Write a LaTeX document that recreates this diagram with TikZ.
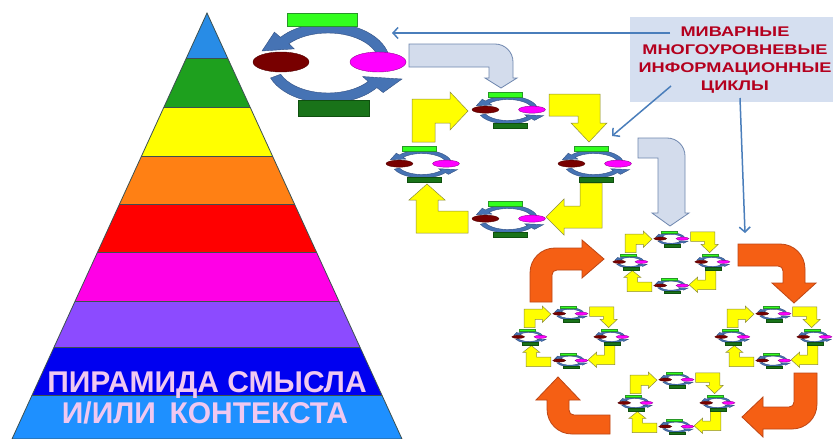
\documentclass[tikz,border=0pt]{standalone}
\usepackage{fontspec}
\setmainfont{Liberation Sans}
\newfontfamily\lblfont[FakeStretch=1.3]{Liberation Sans}
\usetikzlibrary{arrows.meta}
\definecolor{pb1}{RGB}{40,140,230}
\definecolor{pb2}{RGB}{30,160,30}
\definecolor{pb3}{RGB}{255,255,0}
\definecolor{pb4}{RGB}{255,128,20}
\definecolor{pb5}{RGB}{255,0,0}
\definecolor{pb6}{RGB}{255,0,230}
\definecolor{pb7}{RGB}{140,75,255}
\definecolor{pb8}{RGB}{0,0,240}
\definecolor{pb9}{RGB}{30,144,255}
\definecolor{pyredge}{RGB}{60,80,80}
\definecolor{pyrtext}{RGB}{240,200,240}
\definecolor{ringfill}{RGB}{70,115,180}
\definecolor{ringdraw}{RGB}{50,80,130}
\definecolor{gtopc}{RGB}{50,255,30}
\definecolor{gtopd}{RGB}{40,150,40}
\definecolor{gbotc}{RGB}{25,115,25}
\definecolor{gbotd}{RGB}{15,80,15}
\definecolor{redc}{RGB}{120,0,0}
\definecolor{redd}{RGB}{80,0,0}
\definecolor{magc}{RGB}{255,0,255}
\definecolor{magd}{RGB}{150,0,150}
\definecolor{yelc}{RGB}{255,255,0}
\definecolor{yeld}{RGB}{140,140,60}
\definecolor{lbc}{RGB}{211,220,236}
\definecolor{lbd}{RGB}{111,135,175}
\definecolor{orc}{RGB}{245,95,20}
\definecolor{ord}{RGB}{190,70,20}
\definecolor{boxc}{RGB}{213,223,240}
\definecolor{lbltext}{RGB}{180,0,30}
\definecolor{connc}{RGB}{74,126,187}
\tikzset{
  ringc/.style={fill=ringfill, draw=ringdraw, line width=0.4pt},
  gtop/.style={fill=gtopc, draw=gtopd, line width=0.4pt},
  gbot/.style={fill=gbotc, draw=gbotd, line width=0.4pt},
  redell/.style={fill=redc, draw=redd, line width=0.4pt},
  magell/.style={fill=magc, draw=magd, line width=0.4pt},
  yarrow/.style={fill=yelc, draw=yeld, line width=0.5pt},
  lbarrow/.style={fill=lbc, draw=lbd, line width=0.8pt},
  orarrow/.style={fill=orc, draw=ord, line width=0.8pt},
  pyrline/.style={draw=pyredge, line width=0.8pt},
  pyrlabel/.style={text=pyrtext, font=\bfseries\fontsize{30}{30}\selectfont, anchor=base, inner sep=0pt},
  lbltxt/.style={text=lbltext, font=\lblfont\bfseries\fontsize{14}{14}\selectfont, anchor=base, inner sep=0pt},
  conn/.style={draw=connc, line width=1.5pt, -{Straight Barb[length=5pt,width=11pt]}},
  cyc/.pic={
    \path[ringc] (-12:62 and 40) arc[start angle=-12,end angle=-140,x radius=62,y radius=40]
      -- (-140:70 and 48) -- (-66,-12) -- (-140:44 and 22) -- (-140:51 and 30)
      arc[start angle=-140,end angle=-12,x radius=51,y radius=30] -- cycle;
    \path[ringc] (158:62 and 40) arc[start angle=158,end angle=38,x radius=62,y radius=40]
      -- (38:70 and 48) -- (74,16) -- (38:44 and 22) -- (38:51 and 30)
      arc[start angle=38,end angle=158,x radius=51,y radius=30] -- cycle;
    \path[gtop] (-41,-50) rectangle (29,-37);
    \path[gbot] (-30,37) rectangle (41,53);
    \path[redell] (-47,-1) ellipse[x radius=28,y radius=10];
    \path[magell] (50,-1) ellipse[x radius=28,y radius=10];
  },
  grp/.pic={
    \path[yarrow] (-96,-22) -- (-96,-65) -- (-58,-65) -- (-58,-72) -- (-40,-53) -- (-58,-34)
      -- (-58,-41) -- (-73,-41) -- (-73,-22) -- cycle;
    \path[yarrow] (41,-70) -- (92,-70) -- (92,-41) -- (99,-41) -- (81,-22) -- (63,-41)
      -- (70,-41) -- (70,-48) -- (41,-48) -- cycle;
    \path[yarrow] (72,19) -- (94,19) -- (94,64) -- (56,64) -- (56,71) -- (38,53) -- (56,35)
      -- (56,42) -- (72,42) -- cycle;
    \path[yarrow] (-40,69) -- (-92,69) -- (-92,36) -- (-99,36) -- (-81,20) -- (-63,36)
      -- (-70,36) -- (-70,47) -- (-40,47) -- cycle;
    \begin{scope}[shift={(0,-54)},xscale=.48,yscale=.35]\pic[transform shape]{cyc};\end{scope}
    \begin{scope}[shift={(-86,0)},xscale=.48,yscale=.35]\pic[transform shape]{cyc};\end{scope}
    \begin{scope}[shift={(86,0)},xscale=.48,yscale=.35]\pic[transform shape]{cyc};\end{scope}
    \begin{scope}[shift={(0,55)},xscale=.48,yscale=.35]\pic[transform shape]{cyc};\end{scope}
  }
}
\begin{document}
\begin{tikzpicture}[x=1pt,y=-1pt]
\useasboundingbox (0,0) rectangle (833,439);
\fill[white] (0,0) rectangle (833,439);
% ---- pyramid
\begin{scope}
  \clip (207,13) -- (402,439) -- (12,439) -- cycle;
  \fill[pb1] (0,0) rectangle (420,58);
  \fill[pb2] (0,58) rectangle (420,107);
  \fill[pb3] (0,107) rectangle (420,156);
  \fill[pb4] (0,156) rectangle (420,204);
  \fill[pb5] (0,204) rectangle (420,252);
  \fill[pb6] (0,252) rectangle (420,301);
  \fill[pb7] (0,301) rectangle (420,347);
  \fill[pb8] (0,347) rectangle (420,395);
  \fill[pb9] (0,395) rectangle (420,440);
  \foreach \yy in {58,107,156,204,252,301,347,395} {\draw[pyrline] (0,\yy) -- (420,\yy);}
\end{scope}
\draw[pyrline] (207,13) -- (402,439) -- (12,439) -- cycle;
\node[pyrlabel] (pt1) at (207,392) {ПИРАМИДА СМЫСЛА};
\node[pyrlabel] (pt2) at (205,423) {И/ИЛИ\hspace{0.45em}КОНТЕКСТА};
% ---- label box
\node[fill=boxc, draw=none, minimum width=203pt, minimum height=85pt, anchor=north west, inner sep=0pt] (lbox) at (630,17) {};
\node[lbltxt] (l1) at (735,36) {МИВАРНЫЕ};
\node[lbltxt] (l2) at (735,54) {МНОГОУРОВНЕВЫЕ};
\node[lbltxt] (l3) at (735,72) {ИНФОРМАЦИОННЫЕ};
\node[lbltxt] (l4) at (735,90) {ЦИКЛЫ};
% ---- top cycle
\pic at (328,63) {cyc};
% ---- light blue bent arrows
\path[lbarrow] (409,44) -- (495,44) .. controls (505,44) and (513,52) .. (513,62) -- (513,78)
  -- (517,78) -- (501,88) -- (485,78) -- (489,78) -- (489,67) -- (409,67) -- cycle;
\path[lbarrow] (638,138) -- (667,138) .. controls (677,138) and (685,146) .. (685,156) -- (685,213)
  -- (689,213) -- (670,226) -- (652,213) -- (658,213) -- (658,158) -- (638,158) -- cycle;
% ---- level 1 group
\begin{scope}[shift={(508,164)}]\pic[transform shape]{grp};\end{scope}
% ---- orange arrows
\path[orarrow] (530,302) -- (530,273) .. controls (530,259) and (541,248) .. (555,248) -- (582,248)
  -- (582,240) -- (604,259) -- (582,278) -- (582,270) -- (557,270) .. controls (554,270) and (552,272) .. (552,275)
  -- (552,302) -- cycle;
\path[orarrow] (738,244) -- (780,244) .. controls (794,244) and (805,255) .. (805,269) -- (805,283)
  -- (816,283) -- (794,303) -- (772,283) -- (783,283) -- (783,271) .. controls (783,268) and (781,266) .. (778,266)
  -- (738,266) -- cycle;
\path[orarrow] (817,373) -- (817,404) .. controls (817,418) and (806,429) .. (792,429) -- (763,429)
  -- (763,437) -- (742,417) -- (763,397) -- (763,407) -- (789,407) .. controls (792,407) and (794,405) .. (794,402)
  -- (794,373) -- cycle;
\path[orarrow] (610,434) -- (572,434) .. controls (558,434) and (547,423) .. (547,409) -- (547,400)
  -- (536,400) -- (558,377) -- (580,400) -- (569,400) -- (569,410) .. controls (569,413) and (571,415) .. (574,415)
  -- (610,415) -- cycle;
% ---- level 2 groups
\foreach \cx/\cy in {671/262, 570/337, 773/337, 676/403} {
  \begin{scope}[shift={(\cx,\cy)},xscale=.477,yscale=.43]\pic[transform shape]{grp};\end{scope}
}
% ---- connectors from label
\coordinate (a1s) at (670,33);
\coordinate (a1e) at (392,33);
\coordinate (a2s) at (671,86);
\coordinate (a2e) at (612,136);
\coordinate (a3s) at (740,98);
\coordinate (a3e) at (745,233);
\draw[conn] (a1s) -- (a1e);
\draw[conn] (a2s) -- (a2e);
\draw[conn] (a3s) -- (a3e);
\end{tikzpicture}
\end{document}
